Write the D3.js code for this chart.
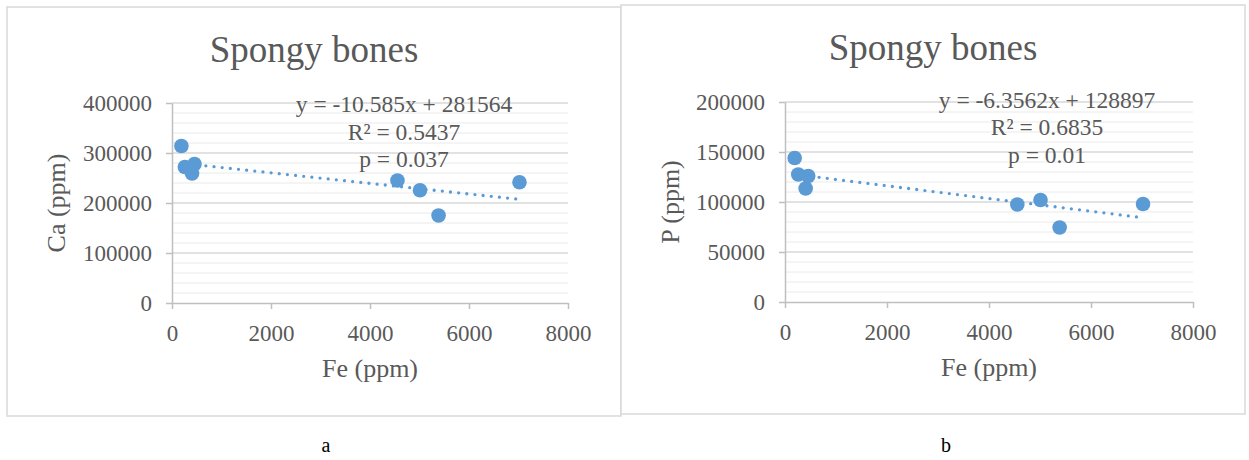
<!DOCTYPE html>
<html>
<head>
<meta charset="utf-8">
<script src="https://cdn.jsdelivr.net/npm/d3@7"></script>
<style>
  body { margin: 0; background: #fff; }
  svg { display: block; font-family: "Liberation Serif", "Times New Roman", serif; }
</style>
</head>
<body>
<svg id="chart" width="1249" height="460"></svg>
<script>
// data
const fe = [190, 260, 455, 405, 4555, 5010, 5385, 7020];
const ca = [314000, 272000, 278000, 259000, 245000, 225500, 175000, 241500];
const p = [144000, 127500, 126000, 113500, 97500, 102000, 74500, 98000];

const xTicks = [0, 2000, 4000, 6000, 8000];
const caTicks = [0, 100000, 200000, 300000, 400000];
const pTicks = [0, 50000, 100000, 150000, 200000];

// trendline coefficients, as printed on the chart
const caFit = { slope: -10.585, intercept: 281564, r2: "0.5437", p: "0.037" };
const pFit = { slope: -6.3562, intercept: 128897, r2: "0.6835", p: "0.01" };

const textColor = "#595959";
const dotColor = "#5b9bd5";

const svg = d3.select("#chart");

function drawPanel(opts) {
  const { box, plot, yLabel, yTicks, yVals, fit, eqX, eqY, titleY, yLabelX } = opts;

  // outer frame
  svg.append("rect")
    .attr("x", box.x).attr("y", box.y)
    .attr("width", box.w).attr("height", box.h)
    .attr("fill", "#fff")
    .attr("stroke", "#d9d9d9")
    .attr("stroke-width", 1.5);

  const x = d3.scaleLinear().domain([0, 8000]).range([plot.left, plot.right]);
  const y = d3.scaleLinear().domain([0, yTicks[yTicks.length - 1]]).range([plot.bottom, plot.top]);

  // minor gridlines (5 per major step)
  const minorStep = (yTicks[1] - yTicks[0]) / 5;
  const minor = d3.range(0, yTicks[yTicks.length - 1] + 1, minorStep)
    .filter((v) => !yTicks.includes(v));
  svg.append("g")
    .selectAll("line")
    .data(minor)
    .join("line")
    .attr("x1", plot.left).attr("x2", plot.right)
    .attr("y1", (d) => y(d)).attr("y2", (d) => y(d))
    .attr("stroke", "#eaeaea")
    .attr("stroke-width", 1);

  // major gridlines
  svg.append("g")
    .selectAll("line")
    .data(yTicks.slice(1))
    .join("line")
    .attr("x1", plot.left).attr("x2", plot.right)
    .attr("y1", (d) => y(d)).attr("y2", (d) => y(d))
    .attr("stroke", "#d9d9d9")
    .attr("stroke-width", 1.5);

  // y axis
  const yAxis = svg.append("g")
    .attr("transform", `translate(${plot.left},0)`)
    .call(d3.axisLeft(y).tickValues(yTicks).tickSize(6).tickSizeOuter(0).tickPadding(14).tickFormat(d3.format("d")));

  // x axis
  const xAxis = svg.append("g")
    .attr("transform", `translate(0,${plot.bottom})`)
    .call(d3.axisBottom(x).tickValues(xTicks).tickSize(6).tickSizeOuter(0).tickPadding(16).tickFormat(d3.format("d")));

  [yAxis, xAxis].forEach((a) => {
    a.select(".domain").attr("stroke", "#bfbfbf").attr("stroke-width", 1.5);
    a.selectAll(".tick line").attr("stroke", "#bfbfbf").attr("stroke-width", 1.5);
    a.selectAll("text")
      .attr("fill", textColor)
      .style("font-size", "23px")
      .style("font-family", '"Liberation Serif", "Times New Roman", serif');
  });
  xAxis.selectAll("text").attr("dy", "0.71em");

  // trendline, dotted
  const xMin = d3.min(fe), xMax = d3.max(fe);
  svg.append("line")
    .attr("x1", x(xMin)).attr("y1", y(fit.slope * xMin + fit.intercept))
    .attr("x2", x(xMax)).attr("y2", y(fit.slope * xMax + fit.intercept))
    .attr("stroke", dotColor)
    .attr("stroke-width", 3.3)
    .attr("stroke-linecap", "round")
    .attr("stroke-dasharray", "0,8.2");

  // points
  svg.append("g")
    .selectAll("circle")
    .data(fe.map((v, i) => ({ fe: v, val: yVals[i] })))
    .join("circle")
    .attr("cx", (d) => x(d.fe))
    .attr("cy", (d) => y(d.val))
    .attr("r", 7.3)
    .attr("fill", dotColor);

  // title
  svg.append("text")
    .attr("x", box.x + box.w / 2)
    .attr("y", titleY)
    .attr("text-anchor", "middle")
    .attr("fill", textColor)
    .style("font-size", "37px")
    .text("Spongy bones");

  // axis titles
  svg.append("text")
    .attr("x", (plot.left + plot.right) / 2)
    .attr("y", plot.bottom + 74)
    .attr("text-anchor", "middle")
    .attr("fill", textColor)
    .style("font-size", "26px")
    .text("Fe (ppm)");

  svg.append("text")
    .attr("transform", `translate(${yLabelX},${(plot.top + plot.bottom) / 2}) rotate(-90)`)
    .attr("text-anchor", "middle")
    .attr("fill", textColor)
    .style("font-size", "26px")
    .text(yLabel);

  // equation block
  const lines = [
    `y = ${fit.slope}x + ${fit.intercept}`,
    `R² = ${fit.r2}`,
    `p = ${fit.p}`,
  ];
  svg.append("g")
    .selectAll("text")
    .data(lines)
    .join("text")
    .attr("x", eqX)
    .attr("y", (d, i) => eqY + i * 27.5)
    .attr("text-anchor", "middle")
    .attr("fill", textColor)
    .style("font-size", "23.5px")
    .text((d) => d);
}

drawPanel({
  box: { x: 7, y: 7, w: 614, h: 409 },
  plot: { left: 172, right: 568, top: 103, bottom: 303 },
  yLabel: "Ca (ppm)",
  yTicks: caTicks,
  yVals: ca,
  fit: caFit,
  eqX: 404,
  eqY: 112,
  titleY: 62,
  yLabelX: 65,
});

drawPanel({
  box: { x: 621, y: 5, w: 624, h: 409 },
  plot: { left: 785, right: 1193, top: 102, bottom: 302 },
  yLabel: "P (ppm)",
  yTicks: pTicks,
  yVals: p,
  fit: pFit,
  eqX: 1047,
  eqY: 107.5,
  titleY: 60,
  yLabelX: 679,
});

// panel letters
svg.selectAll("text.panel")
  .data([{ t: "a", x: 326 }, { t: "b", x: 946 }])
  .join("text")
  .attr("class", "panel")
  .attr("x", (d) => d.x)
  .attr("y", 452)
  .attr("text-anchor", "middle")
  .attr("fill", "#000")
  .style("font-size", "20px")
  .text((d) => d.t);
</script>
</body>
</html>
